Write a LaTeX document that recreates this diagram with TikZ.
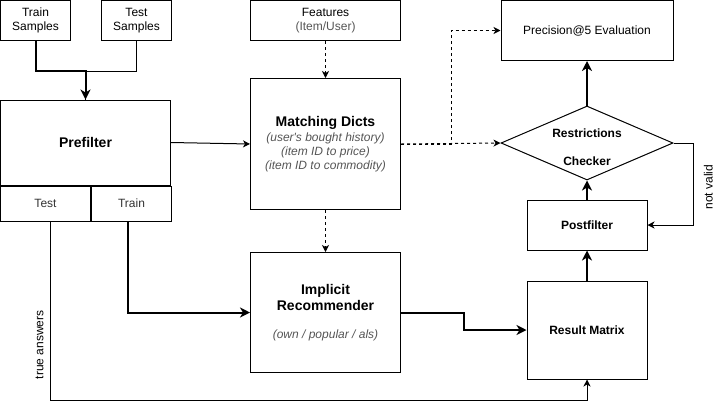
\documentclass[tikz,border=0pt]{standalone}
\usepackage{fontspec}
\setmainfont{Liberation Sans}
\usepackage{xcolor}
\usetikzlibrary{shapes.geometric,arrows.meta,positioning}

\definecolor{hint}{HTML}{555555}
\definecolor{celltext}{HTML}{333333}

\begin{document}
\begin{tikzpicture}[x=1pt, y=-1pt,
    font=\fontsize{12pt}{14pt}\selectfont,
    box/.style={rectangle, draw, line width=1pt, align=center, inner sep=0pt},
    link/.style={-{Stealth[length=7pt, width=7pt, inset=2pt]}, line width=1pt},
    heavy/.style={-{Stealth[length=10pt, width=10pt, inset=3pt]}, line width=2pt},
    weak/.style={link, dash pattern=on 3pt off 3pt}]
    \useasboundingbox (0,0) rectangle (717,416);

    % Nodes
    \node [box, minimum width=70pt, minimum height=40pt] at (35.5,20.5) (trainS) {Train\\Samples};
    \node [box, minimum width=70pt, minimum height=40pt, right=30pt of trainS] (testS) {Test\\Samples};
    \node [box, minimum width=170pt, minimum height=85pt, font=\fontsize{14pt}{16pt}\selectfont\bfseries] at (85.5,142.5) (prefilter) {Prefilter};
    \node [box, minimum width=90pt, minimum height=35pt, text=celltext, below right=0pt and 0pt of prefilter.south west] (testcell) {Test};
    \node [box, minimum width=80pt, minimum height=35pt, text=celltext, right=0pt of testcell] (traincell) {Train};
    \node [box, minimum width=150pt, minimum height=40pt] at (325.5,20.5) (features) {Features\\{\color{hint}(Item/User)}};
    \node [box, minimum width=150pt, minimum height=131pt, below=37pt of features] (match) {{\fontsize{14pt}{16pt}\selectfont\bfseries Matching Dicts}\\[1pt]
        {\color{hint}\itshape (user\textquotesingle s bought history)}\\{\color{hint}\itshape (item ID to price)}\\{\color{hint}\itshape (item ID to commodity)}};
    \node [box, minimum width=150pt, minimum height=120pt, below=42pt of match] (implicit) {{\fontsize{14pt}{16pt}\selectfont\bfseries Implicit}\\[2pt]
        {\fontsize{14pt}{16pt}\selectfont\bfseries Recommender}\\[14pt]{\color{hint}\itshape (own / popular / als)}};
    \node [box, minimum width=172pt, minimum height=60pt] at (587,30.5) (precision) {Precision@5 Evaluation};
    \node [diamond, draw, line width=1pt, inner sep=0pt, minimum width=172pt, minimum height=74pt,
        font=\fontsize{12pt}{14pt}\selectfont\bfseries] at (587,143) (checker)
        {\raisebox{-8.5pt}[0pt][0pt]{\begin{tabular}{@{}c@{}}Restrictions\\[14pt]Checker\end{tabular}}};
    \node [box, minimum width=120pt, minimum height=50pt, font=\fontsize{12pt}{14pt}\selectfont\bfseries] at (587,225) (postfilter) {Postfilter};
    \node [box, minimum width=120pt, minimum height=98pt, below=30pt of postfilter, font=\fontsize{12pt}{14pt}\selectfont\bfseries] (result) {Result Matrix};

    % Path
    \draw [line width=1pt] (testS.south) -- ++(0,30) -| (prefilter.north);
    \draw [heavy] (trainS.south) -- ++(0,30) -| (prefilter.north);
    \draw [link] (prefilter.east) -- (match.west);
    \draw [weak] (features.south) -- (match.north);
    \draw [weak] (match.east) -- (checker.west);
    \draw [weak] (match.east) -- ++(50,0) |- (precision.west);
    \draw [weak] (match.south) -- (implicit.north);
    \draw [heavy] ([xshift=-4pt]traincell.south) |- (implicit.west);
    \draw [heavy] (implicit.east) -- ++(63,0) |- (result.west);
    \draw [heavy] (result.north) -- (postfilter.south);
    \draw [heavy] (postfilter.north) -- (checker.south);
    \draw [heavy] (checker.north) -- (precision.south);
    \draw [link] (checker.east) -- ++(20,0) |- node[pos=.27, rotate=90, anchor=north, inner sep=10pt] {not valid} (postfilter.east);
    \draw [link] ([xshift=4.5pt]testcell.south) -- node[pos=.69, rotate=90, anchor=south, inner sep=6pt] {true answers} ++(0,178.5) -| (result.south);
\end{tikzpicture}
\end{document}
